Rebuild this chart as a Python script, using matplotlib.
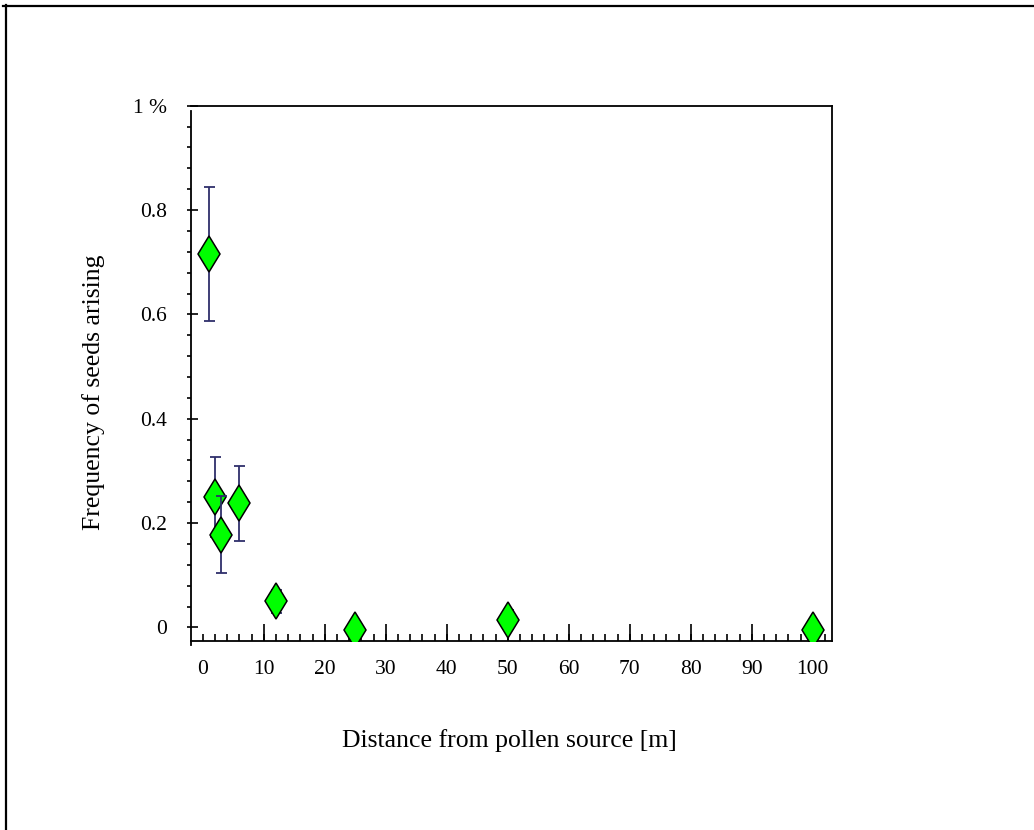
import matplotlib
matplotlib.use("Agg")
import matplotlib.pyplot as plt
from matplotlib.lines import Line2D
from matplotlib.ticker import FixedLocator
import numpy as np

# Data
distance = [1, 2, 3, 6, 12, 25, 50, 100]
frequency = [0.716, 0.250, 0.178, 0.238, 0.050, -0.005, 0.015, -0.005]
error = [0.128, 0.076, 0.074, 0.072, 0.022, 0.0, 0.018, 0.0]

x_ticks = [0, 10, 20, 30, 40, 50, 60, 70, 80, 90, 100]
x_tick_labels = ["0", "10", "20", "30", "40", "50", "60", "70", "80", "90", "100"]
y_ticks = [0, 0.2, 0.4, 0.6, 0.8, 1.0]
y_tick_labels = ["0", "0.2", "0.4", "0.6", "0.8", "1 %"]

plt.rcParams['font.family'] = ['Liberation Serif', 'DejaVu Serif']

W, H = 1034, 830
fig = plt.figure(figsize=(W / 100, H / 100), dpi=100)
px = 72 / 100  # points per pixel

ax = fig.add_axes([190.7 / W, 1 - 640.7 / H, (832.3 - 190.7) / W, (640.7 - 105.7) / H])

z = 2
for xi, yi, ei in zip(distance, frequency, error):
    if ei > 0:
        ax.errorbar([xi], [yi], yerr=[ei], fmt='none', ecolor='#2f2f6b',
                    elinewidth=1.3, capsize=5.5 * px, capthick=1.3, zorder=z)
    ax.plot([xi], [yi], linestyle='none', marker='d', markersize=35 * px / 1.414,
            markerfacecolor='#00ff00', markeredgecolor='black', markeredgewidth=1.1,
            zorder=z + 0.5)
    z += 1

ax.set_xlim(-2.0, 103.2)
ax.set_ylim(-0.0255, 1.0)

for s in ['top', 'right', 'left', 'bottom']:
    ax.spines[s].set_linewidth(1.3)
ax.spines['left'].set_bounds(-0.034, 0.99)

# X ticks
ax.xaxis.set_major_locator(FixedLocator(x_ticks))
ax.set_xticklabels(x_tick_labels)
ax.xaxis.set_minor_locator(FixedLocator(np.arange(0, 103, 2)))
ax.xaxis.remove_overlapping_locs = False
ax.tick_params(axis='x', which='major', direction='in', length=17 * px, width=1.2,
               labelsize=15.5, pad=14, top=False)
ax.tick_params(axis='x', which='minor', direction='in', length=7 * px, width=1.2, top=False)
ax.xaxis.get_major_ticks()[0].tick1line.set_markersize(0)

# Y ticks
ax.yaxis.set_major_locator(FixedLocator(y_ticks))
ax.set_yticklabels(y_tick_labels)
ax.yaxis.set_minor_locator(FixedLocator(np.linspace(0, 1.0, 26)))
ax.yaxis.remove_overlapping_locs = False
ax.tick_params(axis='y', which='major', direction='in', length=7 * px, width=1.2,
               labelsize=15.5, pad=17, right=False)
ax.tick_params(axis='y', which='minor', direction='out', length=4 * px, width=1.2, right=False)

ax.set_xlabel("Distance from pollen source [m]", fontsize=18.5, labelpad=36)
ax.set_ylabel("Frequency of seeds arising", fontsize=18.5, labelpad=20)
ax.yaxis.label.set_y(0.465)
ax.xaxis.label.set_x(0.496)

# Figure border (top and left)
fig.add_artist(Line2D([3 / W, 1.0], [1 - 6 / H, 1 - 6 / H], transform=fig.transFigure,
                      color='black', linewidth=1.6))
fig.add_artist(Line2D([5.5 / W, 5.5 / W], [1 - 5 / H, 0.0], transform=fig.transFigure,
                      color='black', linewidth=1.6))

fig.savefig("out.png", dpi=100)
